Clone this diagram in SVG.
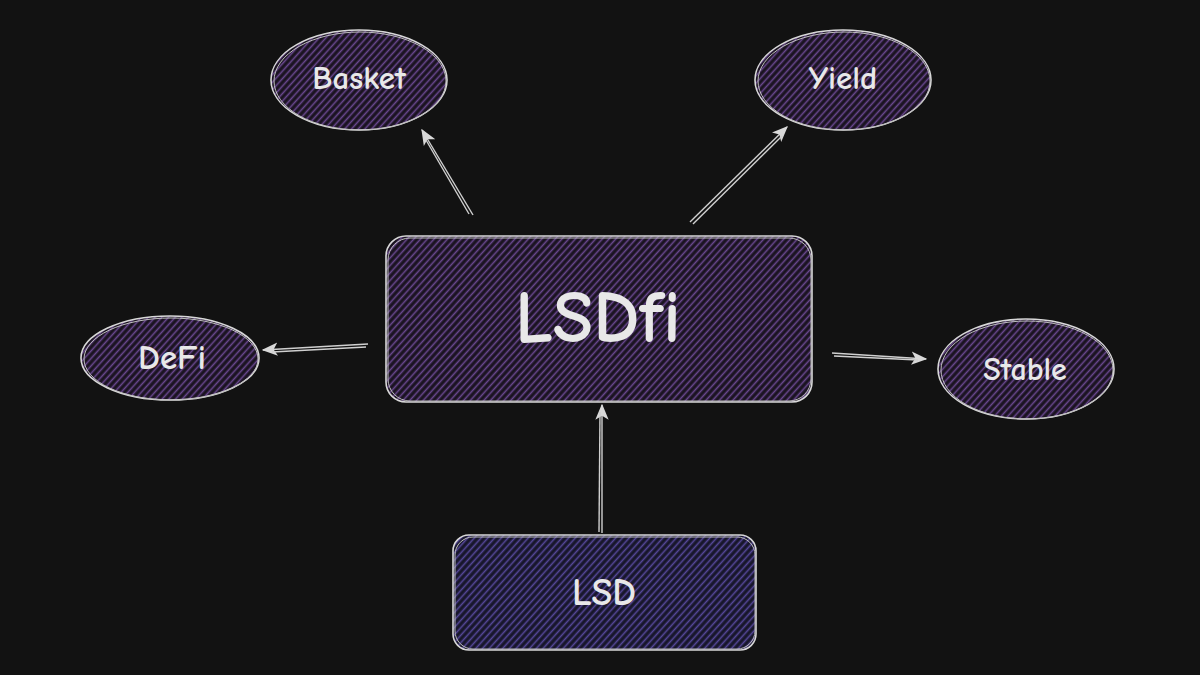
<svg xmlns="http://www.w3.org/2000/svg" width="1200" height="675" viewBox="0 0 1200 675">
<defs>
<pattern id="hp" width="5" height="5" patternUnits="userSpaceOnUse" patternTransform="rotate(-48)">
<rect width="5" height="5" fill="#1a1320"/>
<line x1="0" y1="2.5" x2="5" y2="2.5" stroke="#6a4890" stroke-width="1.6"/>
</pattern>
<pattern id="hb" width="5" height="5" patternUnits="userSpaceOnUse" patternTransform="rotate(-48)">
<rect width="5" height="5" fill="#17162a"/>
<line x1="0" y1="2.5" x2="5" y2="2.5" stroke="#56489a" stroke-width="1.6"/>
</pattern>
<marker id="ah" viewBox="0 0 12 10" refX="11" refY="5" markerWidth="16" markerHeight="14" markerUnits="userSpaceOnUse" orient="auto">
<path d="M0,0 L12,5 L0,10 L3,5 Z" fill="#d8d8d8"/>
</marker>
</defs>
<style>
.sk{stroke:#d8d8d8;stroke-width:1.6;fill:none}
.sk2{stroke:#bdbdbd;stroke-width:1;fill:none}
.lbl{font-family:"Comic Neue","Liberation Sans",sans-serif;font-weight:bold;fill:#e8e8e8;text-anchor:middle;dominant-baseline:central}
.con{stroke:#d0d0d0;stroke-width:1.4;fill:none}
</style>
<rect width="1200" height="675" fill="#121212"/>
<g id="connectors">
<line class="con" x1="473" y1="215" x2="422" y2="130" marker-end="url(#ah)"/>
<line class="con" x1="469" y1="214" x2="426" y2="140"/>
<line class="con" x1="690" y1="222" x2="787" y2="127" marker-end="url(#ah)"/>
<line class="con" x1="693" y1="224" x2="782" y2="136"/>
<line class="con" x1="368" y1="344" x2="263" y2="350" marker-end="url(#ah)"/>
<line class="con" x1="366" y1="347" x2="272" y2="352"/>
<line class="con" x1="832" y1="353" x2="926" y2="359" marker-end="url(#ah)"/>
<line class="con" x1="834" y1="356" x2="918" y2="360"/>
<line class="con" x1="602" y1="533" x2="602" y2="405" marker-end="url(#ah)"/>
<line class="con" x1="599" y1="532" x2="600" y2="412"/>
</g>
<g id="lsdfi">
<rect x="386" y="236" width="426" height="166" rx="20" fill="url(#hp)"/>
<rect class="sk" x="386" y="236" width="426" height="166" rx="20"/>
<rect class="sk2" x="388" y="238" width="423" height="163" rx="22"/>
<text class="lbl" x="598" y="318" font-size="74">LSDfi</text>
</g>
<g id="lsd">
<rect x="453" y="535" width="303" height="115" rx="16" fill="url(#hb)"/>
<rect class="sk" x="453" y="535" width="303" height="115" rx="16"/>
<rect class="sk2" x="455" y="537" width="300" height="112" rx="18"/>
<text class="lbl" x="604" y="593" font-size="38">LSD</text>
</g>
<g id="basket">
<ellipse cx="359" cy="80" rx="88" ry="50" fill="url(#hp)"/>
<ellipse class="sk" cx="359" cy="80" rx="88" ry="50"/>
<ellipse class="sk2" cx="360" cy="81" rx="86" ry="49"/>
<text class="lbl" x="359" y="78" font-size="33">Basket</text>
</g>
<g id="yield">
<ellipse cx="843" cy="80" rx="88" ry="50" fill="url(#hp)"/>
<ellipse class="sk" cx="843" cy="80" rx="88" ry="50"/>
<ellipse class="sk2" cx="844" cy="81" rx="86" ry="49"/>
<text class="lbl" x="843" y="78" font-size="33">Yield</text>
</g>
<g id="defi">
<ellipse cx="170" cy="358" rx="89" ry="42" fill="url(#hp)"/>
<ellipse class="sk" cx="170" cy="358" rx="89" ry="42"/>
<ellipse class="sk2" cx="171" cy="359" rx="87" ry="41"/>
<text class="lbl" x="172" y="357" font-size="35">DeFi</text>
</g>
<g id="stable">
<ellipse cx="1026" cy="369" rx="88" ry="50" fill="url(#hp)"/>
<ellipse class="sk" cx="1026" cy="369" rx="88" ry="50"/>
<ellipse class="sk2" cx="1027" cy="370" rx="86" ry="49"/>
<text class="lbl" x="1025" y="369" font-size="32">Stable</text>
</g>
</svg>
